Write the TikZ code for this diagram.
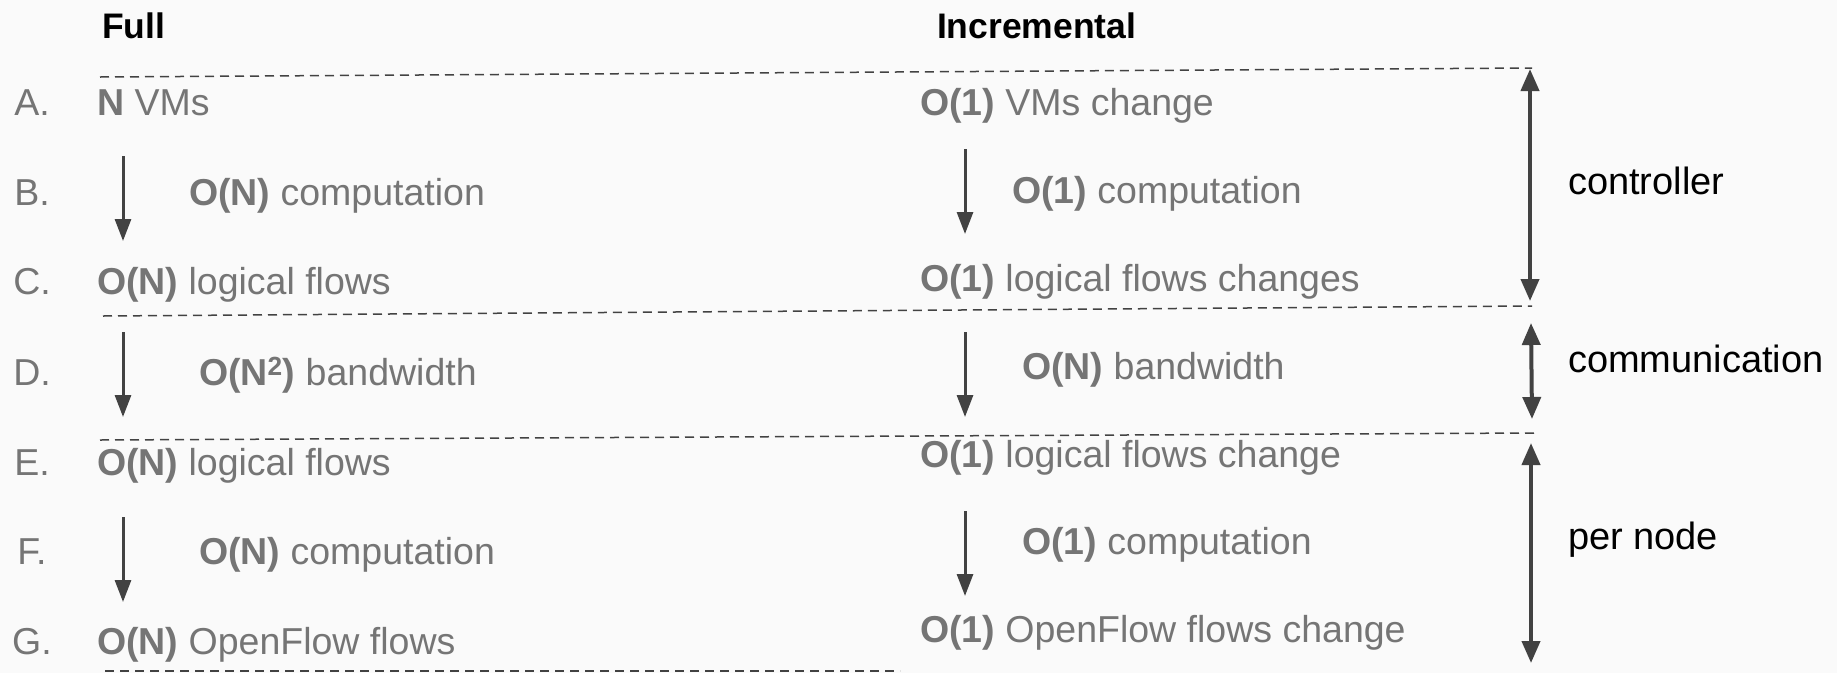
\documentclass[tikz,border=0pt]{standalone}
\usepackage{fontspec}
\setmainfont{Liberation Sans}
\usetikzlibrary{arrows.meta}
\definecolor{txt}{HTML}{757575}
\definecolor{ink}{HTML}{424242}
\definecolor{bg}{HTML}{FAFAFA}
\begin{document}
\begin{tikzpicture}[x=1pt,y=-1pt,
  every node/.style={inner sep=0pt, outer sep=0pt, font=\fontsize{37.5}{40}\selectfont},
  row/.style={anchor=base west, text=txt},
  lbl/.style={anchor=base, text=txt},
  head/.style={anchor=base west, font=\fontsize{35.5}{40}\selectfont\bfseries},
  side/.style={anchor=base west, text=black, font=\fontsize{38}{40}\selectfont},
  flow/.style={draw=ink, line width=3pt, -{Triangle[length=22pt,width=16pt]}},
  span/.style={draw=ink, line width=4pt, {Triangle[length=22pt,width=18pt]}-{Triangle[length=22pt,width=18pt]}},
  sep/.style={draw=ink, line width=1.5pt, dash pattern=on 9pt off 6pt}]
\fill[bg] (0,0) rectangle (1837,673);
\useasboundingbox (0,0) rectangle (1837,673);

% headers
\node[head] (hfull) at (102,38) {Full};
\node[head] (hinc) at (937,38) {Incremental};

% separators
\coordinate (s1a) at (100,77);  \coordinate (s1b) at (1532,68);
\coordinate (s2a) at (103,316); \coordinate (s2b) at (1532,306);
\coordinate (s3a) at (100,440); \coordinate (s3b) at (1535,433);
\coordinate (s4a) at (105,671); \coordinate (s4b) at (900,671);
\draw[sep] (s1a) -- (s1b);
\draw[sep] (s2a) -- (s2b);
\draw[sep] (s3a) -- (s3b);
\draw[sep] (s4a) -- (s4b);

% row letters
\node[lbl] (la) at (32,115) {A.};
\node[lbl] (lb) at (32,205) {B.};
\node[lbl] (lc) at (32,294) {C.};
\node[lbl] (ld) at (32,385) {D.};
\node[lbl] (le) at (32,475) {E.};
\node[lbl] (lf) at (32,564) {F.};
\node[lbl] (lg) at (32,654) {G.};

% full column
\node[row] (fa) at (97,115) {\textbf{N} VMs};
\node[row] (fb) at (189,205) {\textbf{O(N)} computation};
\node[row] (fc) at (97,294) {\textbf{O(N)} logical flows};
\node[row] (fd) at (199,385) {\textbf{O(N\textsuperscript{2})} bandwidth};
\node[row] (fe) at (97,475) {\textbf{O(N)} logical flows};
\node[row] (ff) at (199,564) {\textbf{O(N)} computation};
\node[row] (fg) at (97,654) {\textbf{O(N)} OpenFlow flows};

\coordinate (fb1) at (123,156); \coordinate (fb2) at (123,241);
\coordinate (fd1) at (123,332); \coordinate (fd2) at (123,417);
\coordinate (ff1) at (123,517); \coordinate (ff2) at (123,602);
\draw[flow] (fb1) -- (fb2);
\draw[flow] (fd1) -- (fd2);
\draw[flow] (ff1) -- (ff2);

% incremental column
\node[row] (ia) at (920,115) {\textbf{O(1)} VMs change};
\node[row] (ib) at (1012,203) {\textbf{O(1)} computation};
\node[row] (ic) at (920,291) {\textbf{O(1)} logical flows changes};
\node[row] (id) at (1022,379) {\textbf{O(N)} bandwidth};
\node[row] (ie) at (920,467) {\textbf{O(1)} logical flows change};
\node[row] (if) at (1022,554) {\textbf{O(1)} computation};
\node[row] (ig) at (920,642) {\textbf{O(1)} OpenFlow flows change};

\coordinate (ib1) at (965,149); \coordinate (ib2) at (965,234);
\coordinate (id1) at (965,332); \coordinate (id2) at (965,417);
\coordinate (if1) at (965,511); \coordinate (if2) at (965,596);
\draw[flow] (ib1) -- (ib2);
\draw[flow] (id1) -- (id2);
\draw[flow] (if1) -- (if2);

% side spans
\coordinate (c1) at (1530,69);  \coordinate (c2) at (1530,301);
\coordinate (m1) at (1531,323); \coordinate (m2) at (1532,419);
\coordinate (p1) at (1531,443); \coordinate (p2) at (1531,663);
\draw[span] (c1) -- (c2);
\draw[span] (m1) -- (m2);
\draw[span] (p1) -- (p2);
\node[side] (sc) at (1568,194) {controller};
\node[side] (sm) at (1568,372) {communication};
\node[side] (sp) at (1568,549) {per node};
\end{tikzpicture}
\end{document}
